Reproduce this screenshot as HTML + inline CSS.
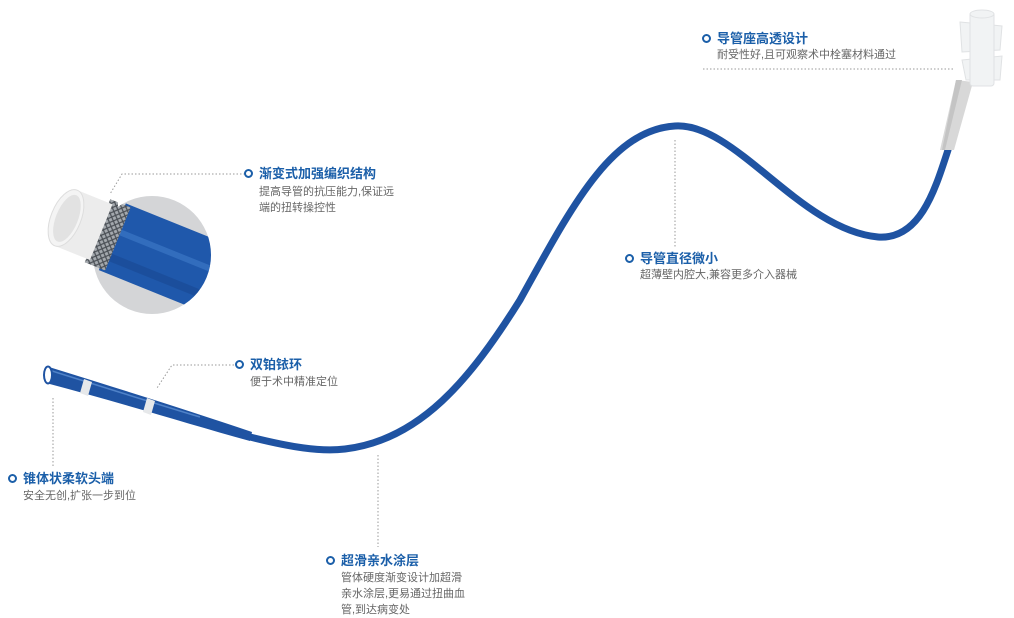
<!DOCTYPE html>
<html><head><meta charset="utf-8"><style>
html,body{margin:0;padding:0;background:#fff;width:1014px;height:618px;overflow:hidden}
.t{position:absolute;font-family:"Liberation Sans","Noto Sans CJK SC",sans-serif;font-size:13px;font-weight:bold;color:#1b5fa9;white-space:nowrap;line-height:16px}
.t i{position:absolute;left:-15px;top:3px;width:5px;height:5px;border:2.5px solid #1b5fa9;border-radius:50%}
.d{position:absolute;font-family:"Liberation Sans","Noto Sans CJK SC",sans-serif;font-size:11px;color:#666;line-height:16px;white-space:nowrap}
</style></head><body>
<svg width="1014" height="618" style="position:absolute;left:0;top:0">
<defs>
<clipPath id="cc"><circle cx="152" cy="255" r="59"/><rect x="0" y="150" width="118" height="200"/></clipPath>
<pattern id="br" width="6" height="6" patternUnits="userSpaceOnUse"><rect width="6" height="6" fill="#a4a9ae"/><path d="M0,0L6,6M6,0L0,6" stroke="#4a4f55" stroke-width="1.2"/></pattern>
</defs>
<g stroke="#999" stroke-width="1" stroke-dasharray="1.5,2" fill="none">
<path d="M245,174H122L110,194"/>
<path d="M234,365H172L157,388"/>
<path d="M53,398V468"/>
<path d="M378,455V547"/>
<path d="M675,140V248"/>
<path d="M703,69H955"/>
</g>
<circle cx="152" cy="255" r="59" fill="#d4d5d7"/>
<g clip-path="url(#cc)">
<g transform="translate(66,218) rotate(22)">
<rect x="50" y="-36" width="180" height="72" fill="#1f58ab"/>
<rect x="50" y="-10" width="180" height="6" fill="#3a76c4" opacity=".7"/>
<rect x="50" y="16" width="180" height="8" fill="#1a4c98" opacity=".8"/>
<rect x="34" y="-34" width="22" height="68" fill="url(#br)"/>
<rect x="0" y="-30" width="38" height="60" fill="#ececec"/>
<ellipse cx="0" cy="0" rx="15" ry="30" fill="#f4f4f4" stroke="#ddd"/>
<ellipse cx="1" cy="0" rx="11" ry="25" fill="#e2e2e2"/>
</g>
</g>
<path d="M250,437 C290,447 320,452 345,449 C420,440 470,380 520,300 C570,210 610,130 675,126 C735,122 800,230 878,237 C920,240 935,190 948,150" fill="none" stroke="#1f53a2" stroke-width="7" stroke-linecap="round"/>
<path d="M49,367 C120,389 190,411 252,432 L250,441 C185,423 115,401 46,383 Z" fill="#1f53a2"/>
<path d="M52,371 C100,386 150,402 200,417" fill="none" stroke="#4f82c8" stroke-width="1.5"/>
<path d="M84,379 L92,382 L88,396 L80,393Z" fill="#e6e8ea"/>
<path d="M147,398 L155,401 L151,415 L143,412Z" fill="#e6e8ea"/>
<ellipse cx="48" cy="375" rx="4" ry="8.5" fill="#fff" stroke="#1f53a2" stroke-width="2"/>
<path d="M940,150 L954,150 L973,82 L956,80Z" fill="#d8d8d8"/>
<path d="M956,80 L962,80 L945,150 L942,150Z" fill="#c4c4c4"/>
<g fill="#f1f3f4" stroke="#e0e2e4" stroke-width="1">
<path d="M962,60 L1002,56 L1000,80 L966,80Z"/>
<path d="M960,22 L1002,26 L1000,50 L962,52Z"/>
<rect x="970" y="12" width="24" height="74" rx="3"/>
<ellipse cx="982" cy="14" rx="12" ry="4"/>
</g>
</svg>
<div class="t" style="left:259px;top:166px"><i></i>渐变式加强编织结构</div>
<div class="d" style="left:259px;top:184px">提高导管的抗压能力,保证远<br>端的扭转操控性</div>
<div class="t" style="left:250px;top:357px"><i></i>双铂铱环</div>
<div class="d" style="left:250px;top:374px">便于术中精准定位</div>
<div class="t" style="left:23px;top:471px"><i></i>锥体状柔软头端</div>
<div class="d" style="left:23px;top:488px">安全无创,扩张一步到位</div>
<div class="t" style="left:341px;top:553px"><i></i>超滑亲水涂层</div>
<div class="d" style="left:341px;top:570px">管体硬度渐变设计加超滑<br>亲水涂层,更易通过扭曲血<br>管,到达病变处</div>
<div class="t" style="left:640px;top:251px"><i></i>导管直径微小</div>
<div class="d" style="left:640px;top:267px">超薄壁内腔大,兼容更多介入器械</div>
<div class="t" style="left:717px;top:31px"><i></i>导管座高透设计</div>
<div class="d" style="left:717px;top:47px">耐受性好,且可观察术中栓塞材料通过</div>
</body></html>
